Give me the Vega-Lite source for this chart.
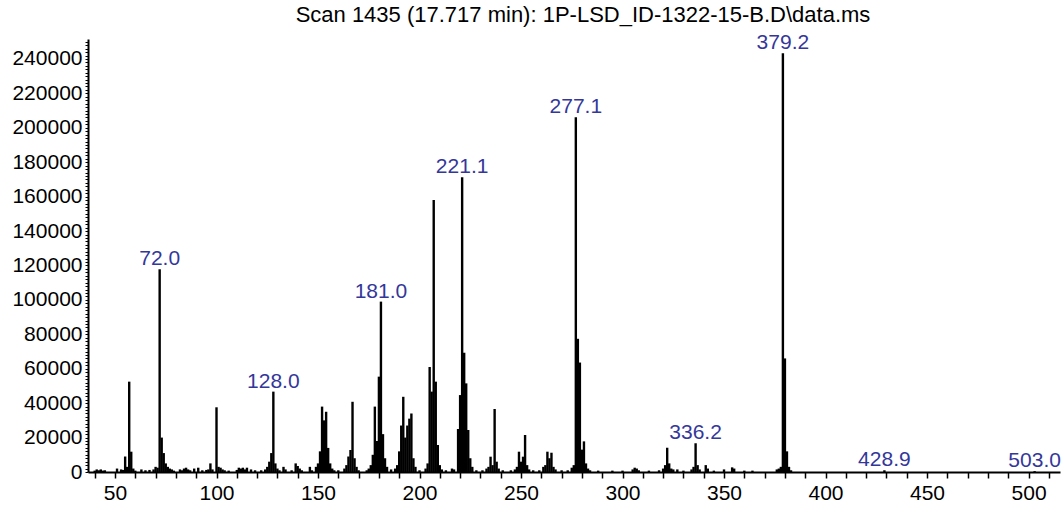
{
  "$schema": "https://vega.github.io/schema/vega-lite/v6.json",
  "width": 972,
  "height": 433,
  "autosize": {"type": "none"},
  "padding": {"left": 88, "top": 39, "right": 1, "bottom": 33},
  "background": "white",
  "title": {"text": "Scan 1435 (17.717 min): 1P-LSD_ID-1322-15-B.D\\data.ms", "fontSize": 22, "font": "Liberation Sans", "fontWeight": "normal", "color": "black", "anchor": "middle", "dx": 9, "offset": 4},
  "config": {"view": {"stroke": null}, "font": "Liberation Sans"},
  "datasets": {
    "peaks": [
      {"mz": 40, "intensity": 800}, {"mz": 41, "intensity": 1500}, {"mz": 42, "intensity": 1000}, {"mz": 43, "intensity": 1500}, {"mz": 44, "intensity": 800}, {"mz": 45, "intensity": 1000},
      {"mz": 51, "intensity": 2000}, {"mz": 53, "intensity": 1500}, {"mz": 54, "intensity": 1200}, {"mz": 55, "intensity": 9000}, {"mz": 56, "intensity": 3000}, {"mz": 57, "intensity": 52500}, {"mz": 58, "intensity": 11800}, {"mz": 59, "intensity": 2000}, {"mz": 60, "intensity": 800},
      {"mz": 63, "intensity": 1500}, {"mz": 65, "intensity": 1000}, {"mz": 67, "intensity": 1200}, {"mz": 69, "intensity": 1500}, {"mz": 70, "intensity": 3000}, {"mz": 71, "intensity": 2500},
      {"mz": 72, "intensity": 117800}, {"mz": 73, "intensity": 20000}, {"mz": 74, "intensity": 11000}, {"mz": 75, "intensity": 5000}, {"mz": 76, "intensity": 3000}, {"mz": 77, "intensity": 2000}, {"mz": 78, "intensity": 1500}, {"mz": 79, "intensity": 800},
      {"mz": 82, "intensity": 1500}, {"mz": 83, "intensity": 1000}, {"mz": 84, "intensity": 2000}, {"mz": 85, "intensity": 2500}, {"mz": 86, "intensity": 1500}, {"mz": 87, "intensity": 1000}, {"mz": 89, "intensity": 2000}, {"mz": 91, "intensity": 2500}, {"mz": 93, "intensity": 1000}, {"mz": 95, "intensity": 1200}, {"mz": 96, "intensity": 1500}, {"mz": 97, "intensity": 5000}, {"mz": 98, "intensity": 1500},
      {"mz": 100, "intensity": 37600}, {"mz": 101, "intensity": 3000}, {"mz": 102, "intensity": 2500}, {"mz": 103, "intensity": 1500}, {"mz": 104, "intensity": 1000}, {"mz": 106, "intensity": 800},
      {"mz": 110, "intensity": 1200}, {"mz": 111, "intensity": 2500}, {"mz": 112, "intensity": 2000}, {"mz": 113, "intensity": 2500}, {"mz": 114, "intensity": 1500}, {"mz": 115, "intensity": 2500}, {"mz": 117, "intensity": 1500}, {"mz": 119, "intensity": 1000}, {"mz": 122, "intensity": 1000},
      {"mz": 124, "intensity": 1500}, {"mz": 125, "intensity": 3000}, {"mz": 126, "intensity": 6000}, {"mz": 127, "intensity": 11000}, {"mz": 128, "intensity": 46700}, {"mz": 129, "intensity": 5000}, {"mz": 130, "intensity": 2000}, {"mz": 131, "intensity": 1000},
      {"mz": 133, "intensity": 3000}, {"mz": 134, "intensity": 1500}, {"mz": 137, "intensity": 1000}, {"mz": 139, "intensity": 5000}, {"mz": 140, "intensity": 3500}, {"mz": 141, "intensity": 2000}, {"mz": 142, "intensity": 1000}, {"mz": 146, "intensity": 3000}, {"mz": 147, "intensity": 1000},
      {"mz": 149, "intensity": 3000}, {"mz": 150, "intensity": 5000}, {"mz": 151, "intensity": 12000}, {"mz": 152, "intensity": 38000}, {"mz": 153, "intensity": 30000}, {"mz": 154, "intensity": 35000}, {"mz": 155, "intensity": 14000}, {"mz": 156, "intensity": 5000}, {"mz": 157, "intensity": 2000}, {"mz": 158, "intensity": 1000},
      {"mz": 160, "intensity": 1000}, {"mz": 163, "intensity": 2000}, {"mz": 164, "intensity": 4000}, {"mz": 165, "intensity": 9000}, {"mz": 166, "intensity": 12800}, {"mz": 167, "intensity": 40800}, {"mz": 168, "intensity": 8000}, {"mz": 169, "intensity": 3000}, {"mz": 170, "intensity": 1000},
      {"mz": 174, "intensity": 1000}, {"mz": 175, "intensity": 2000}, {"mz": 176, "intensity": 4000}, {"mz": 177, "intensity": 10000}, {"mz": 178, "intensity": 38000}, {"mz": 179, "intensity": 18000}, {"mz": 180, "intensity": 55400}, {"mz": 181, "intensity": 99000}, {"mz": 182, "intensity": 22000}, {"mz": 183, "intensity": 8000}, {"mz": 184, "intensity": 3000},
      {"mz": 186, "intensity": 1500}, {"mz": 188, "intensity": 2000}, {"mz": 189, "intensity": 4000}, {"mz": 190, "intensity": 12000}, {"mz": 191, "intensity": 27000}, {"mz": 192, "intensity": 43700}, {"mz": 193, "intensity": 20000}, {"mz": 194, "intensity": 27000}, {"mz": 195, "intensity": 31000}, {"mz": 196, "intensity": 34000}, {"mz": 197, "intensity": 8000}, {"mz": 198, "intensity": 3000},
      {"mz": 200, "intensity": 1000}, {"mz": 203, "intensity": 2000}, {"mz": 204, "intensity": 5000}, {"mz": 205, "intensity": 61000}, {"mz": 206, "intensity": 46700}, {"mz": 207, "intensity": 158000}, {"mz": 208, "intensity": 52500}, {"mz": 209, "intensity": 15700}, {"mz": 210, "intensity": 4000}, {"mz": 211, "intensity": 1500},
      {"mz": 213, "intensity": 1000}, {"mz": 216, "intensity": 2000}, {"mz": 217, "intensity": 1500}, {"mz": 219, "intensity": 25000}, {"mz": 220, "intensity": 44700}, {"mz": 221, "intensity": 171200}, {"mz": 222, "intensity": 69300}, {"mz": 223, "intensity": 51500}, {"mz": 224, "intensity": 24400}, {"mz": 225, "intensity": 8000}, {"mz": 226, "intensity": 3000},
      {"mz": 228, "intensity": 1000}, {"mz": 231, "intensity": 1000}, {"mz": 233, "intensity": 2000}, {"mz": 234, "intensity": 3000}, {"mz": 235, "intensity": 8900}, {"mz": 236, "intensity": 4000}, {"mz": 237, "intensity": 36600}, {"mz": 238, "intensity": 6000}, {"mz": 239, "intensity": 2000},
      {"mz": 241, "intensity": 1000}, {"mz": 245, "intensity": 1000}, {"mz": 247, "intensity": 1500}, {"mz": 248, "intensity": 3000}, {"mz": 249, "intensity": 11800}, {"mz": 250, "intensity": 6000}, {"mz": 251, "intensity": 8900}, {"mz": 252, "intensity": 21500}, {"mz": 253, "intensity": 4000}, {"mz": 254, "intensity": 1500},
      {"mz": 256, "intensity": 1000}, {"mz": 259, "intensity": 1000}, {"mz": 261, "intensity": 3000}, {"mz": 262, "intensity": 4000}, {"mz": 263, "intensity": 11800}, {"mz": 264, "intensity": 8000}, {"mz": 265, "intensity": 11200}, {"mz": 266, "intensity": 3000}, {"mz": 267, "intensity": 1500},
      {"mz": 270, "intensity": 1000}, {"mz": 273, "intensity": 1000}, {"mz": 275, "intensity": 2500}, {"mz": 276, "intensity": 4000}, {"mz": 277, "intensity": 206100}, {"mz": 278, "intensity": 77400}, {"mz": 279, "intensity": 63600}, {"mz": 280, "intensity": 13000}, {"mz": 281, "intensity": 17800}, {"mz": 282, "intensity": 5000}, {"mz": 283, "intensity": 2000}, {"mz": 284, "intensity": 1000},
      {"mz": 288, "intensity": 800}, {"mz": 295, "intensity": 800}, {"mz": 300, "intensity": 800}, {"mz": 305, "intensity": 1500}, {"mz": 306, "intensity": 2500}, {"mz": 307, "intensity": 2000}, {"mz": 308, "intensity": 1000}, {"mz": 313, "intensity": 800}, {"mz": 318, "intensity": 1000},
      {"mz": 320, "intensity": 2000}, {"mz": 321, "intensity": 4000}, {"mz": 322, "intensity": 14100}, {"mz": 323, "intensity": 5000}, {"mz": 324, "intensity": 2000}, {"mz": 325, "intensity": 1500}, {"mz": 327, "intensity": 1500}, {"mz": 330, "intensity": 800},
      {"mz": 334, "intensity": 1500}, {"mz": 335, "intensity": 3000}, {"mz": 336, "intensity": 16700}, {"mz": 337, "intensity": 4000}, {"mz": 338, "intensity": 1500}, {"mz": 341, "intensity": 4000}, {"mz": 342, "intensity": 2000}, {"mz": 345, "intensity": 800},
      {"mz": 350, "intensity": 1500}, {"mz": 354, "intensity": 2700}, {"mz": 355, "intensity": 2000}, {"mz": 360, "intensity": 800}, {"mz": 364, "intensity": 800},
      {"mz": 376, "intensity": 1500}, {"mz": 377, "intensity": 2000}, {"mz": 378, "intensity": 3000}, {"mz": 379, "intensity": 243300}, {"mz": 380, "intensity": 66000}, {"mz": 381, "intensity": 12000}, {"mz": 382, "intensity": 3000}, {"mz": 383, "intensity": 1000},
      {"mz": 429, "intensity": 1000}, {"mz": 503, "intensity": 500}
    ],
    "labels": [
      {"mz": 72, "intensity": 117800, "label": "72.0"},
      {"mz": 128, "intensity": 46700, "label": "128.0"},
      {"mz": 181, "intensity": 99000, "label": "181.0"},
      {"mz": 221, "intensity": 171200, "label": "221.1"},
      {"mz": 277, "intensity": 206100, "label": "277.1"},
      {"mz": 336, "intensity": 16700, "label": "336.2"},
      {"mz": 379, "intensity": 243300, "label": "379.2"},
      {"mz": 429, "intensity": 1000, "label": "428.9"},
      {"mz": 503, "intensity": 500, "label": "503.0"}
    ]
  },
  "layer": [
    {
      "data": {"name": "peaks"},
      "mark": {"type": "rule", "color": "black", "strokeWidth": 2.4},
      "encoding": {
        "x": {
          "field": "mz", "type": "quantitative",
          "scale": {"domain": [36.7, 515.5], "nice": false, "zero": false},
          "axis": {
            "title": null, "grid": false, "tickCount": 48,
            "labelExpr": "datum.value % 50 === 0 ? format(datum.value, 'd') : ''",
            "labelOverlap": false, "labelFlush": false,
            "labelFontSize": 21, "labelFont": "Liberation Sans", "labelColor": "black",
            "tickColor": "black", "tickSize": 6, "tickWidth": 1.5,
            "domainColor": "black", "domainWidth": 2, "labelPadding": 4
          }
        },
        "y": {
          "field": "intensity", "type": "quantitative",
          "scale": {"domain": [0, 251600], "nice": false},
          "axis": {
            "title": null, "grid": false, "tickCount": 126,
            "labelExpr": "datum.value % 20000 === 0 ? format(datum.value, 'd') : ''",
            "labelOverlap": false, "labelFlush": false,
            "labelFontSize": 21, "labelFont": "Liberation Sans", "labelColor": "black",
            "tickColor": "black", "tickSize": 3, "tickWidth": 1,
            "domainColor": "black", "domainWidth": 2, "labelPadding": 3
          }
        },
        "y2": {"datum": 0}
      }
    },
    {
      "data": {"name": "labels"},
      "mark": {"type": "text", "color": "#34379a", "fontSize": 21, "font": "Liberation Sans", "baseline": "alphabetic", "align": "center", "dy": -4},
      "encoding": {
        "x": {"field": "mz", "type": "quantitative"},
        "y": {"field": "intensity", "type": "quantitative"},
        "text": {"field": "label"}
      }
    }
  ]
}
